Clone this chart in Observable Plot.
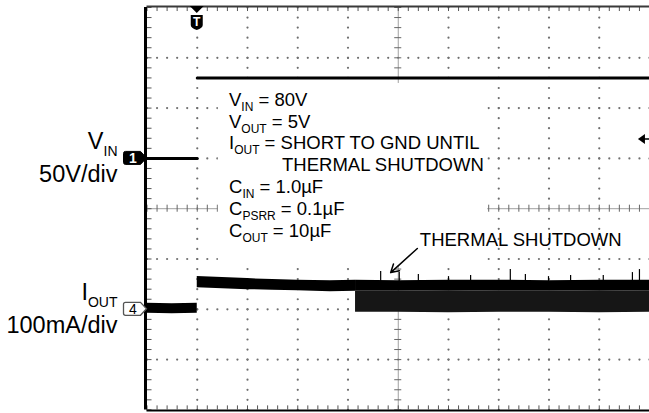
<!DOCTYPE html>
<html><head><meta charset="utf-8">
<script src="https://cdn.jsdelivr.net/npm/d3@7"></script>
<script src="https://cdn.jsdelivr.net/npm/@observablehq/plot@0.6"></script>
<style>body{margin:0;background:#fff} svg{display:block}</style>
</head><body><div id="chart"></div>
<script>
// Horizontal: time in divisions (10 div screen). Vertical: divisions (8 div screen).
const timeDomain = [0, 10];
const divDomain = [-4, 4];
const triggerTime = 1.0;

// V_IN trace (50V/div, ground reference at +1 div)
const vinSegment = [0, 0, 1, 1];
const vinTime = [0, 1.0, 1.0, 10];
const vinLevel = [1.0, 1.0, 2.6, 2.6];

// I_OUT trace (100mA/div, ground reference at -2 div): noisy band envelopes
const ioutPreTime = [0, 0.5, 1.0];
const ioutPreHigh = [-1.88, -1.89, -1.88];
const ioutPreLow = [-2.08, -2.09, -2.08];

const ioutOnTime = [1.0, 1.5, 2.0, 2.5, 3.0, 3.65, 4.15];
const ioutOnHigh = [-1.35, -1.37, -1.39, -1.41, -1.42, -1.43, -1.42];
const ioutOnLow = [-1.57, -1.59, -1.61, -1.62, -1.63, -1.65, -1.64];

// thermal shutdown cycling region
const tsdTime = [4.15, 5, 6, 7, 8, 9, 10];
const tsdHigh = [-1.42, -1.43, -1.42, -1.42, -1.43, -1.42, -1.42];
const tsdSolidLow = [-1.63, -1.63, -1.64, -1.63, -1.63, -1.64, -1.63];
const tsdLow = [-2.06, -2.06, -2.07, -2.06, -2.06, -2.07, -2.06];

const spikeTime = [4.65, 5.02, 5.40, 6.0, 6.44, 7.23, 7.53, 7.99, 8.43, 9.08, 9.66, 9.80];
const spikeTop = [-1.25, -1.27, -1.31, -1.35, -1.33, -1.21, -1.31, -1.35, -1.33, -1.33, -1.27, -1.21];

// Text
const conditionMain = ["V", "V", "I", "", "C", "C", "C"];
const conditionSub = ["IN", "OUT", "OUT", "", "IN", "PSRR", "OUT"];
const conditionRest = [" = 80V", " = 5V", " = SHORT TO GND UNTIL", "THERMAL SHUTDOWN", " = 1.0µF", " = 0.1µF", " = 10µF"];
const conditionX = [1.642, 1.642, 1.642, 2.697, 1.642, 1.642, 1.642];
const conditionY = [2.03, 1.60, 1.18, 0.74, 0.30, -0.135, -0.57];
const conditionBox = [{x1: 1.42, x2: 6.78, y1: -1.13, y2: 2.49}];

const channelMain = ["V", "I"];
const channelSub = ["IN", "OUT"];
const channelScale = ["50V/div", "100mA/div"];
const channelNumber = ["1", "4"];
const channelLevel = [1.0, -2.0];

const annotationText = ["THERMAL SHUTDOWN"];
const annotationTime = [5.44];
const annotationLevel = [-0.75];
const arrowFrom = [{t: 5.38, v: -0.79}];
const arrowTo = [{t: 4.85, v: -1.27}];

const triggerArrowLevel = 1.376;
const triggerArrowTime = 9.78;

// Grid
const majorX = d3.range(0, 11);
const majorY = d3.range(-4, 5);
const minorX = d3.range(0, 50.001).map(i => i / 5);
const minorY = d3.range(-20, 20.001).map(i => i / 5);

const FONT = "'Liberation Sans', Arial, Helvetica, sans-serif";

const gridDots = [];
for (const gx of majorX.filter(d => d > 0 && d < 10 && d !== 5)) for (const gy of minorY) gridDots.push({t: gx, v: gy});
for (const gy of majorY.filter(d => d > -4 && d < 4 && d !== 0)) for (const gx of minorX) gridDots.push({t: gx, v: gy});

const band = (ts, hi, lo) => ts.map((t, i) => ({t, hi: hi[i], lo: lo[i]}));
const vinData = vinTime.map((t, i) => ({t, v: vinLevel[i], s: vinSegment[i]}));
const spikes = spikeTime.map((t, i) => ({t, top: spikeTop[i]}));

function richText(parent, px, py, main, sub, rest, size, subSize, subDy, anchor) {
  const t = parent.append("text")
    .attr("x", px).attr("y", py)
    .attr("font-size", size)
    .attr("text-anchor", anchor)
    .attr("fill", "#000")
    .style("white-space", "pre");
  if (main) t.append("tspan").text(main);
  if (sub) t.append("tspan").attr("font-size", subSize).attr("dy", subDy).text(sub);
  if (rest) {
    const r = t.append("tspan").text(rest);
    if (sub) r.attr("dy", -subDy);
  }
  return t;
}

function overlay(index, scales) {
  const x = scales.x, y = scales.y;
  const g = d3.create("svg:g").attr("font-family", FONT).attr("text-anchor", "start");

  // conditions block
  conditionMain.forEach((m, i) => {
    richText(g, x(conditionX[i]), y(conditionY[i]), m, conditionSub[i], conditionRest[i], 18.5, 12, 5, "start");
  });
  // annotation
  annotationText.forEach((s, i) => {
    g.append("text").attr("x", x(annotationTime[i])).attr("y", y(annotationLevel[i]))
      .attr("text-anchor", "start")
      .attr("font-size", 18.5).attr("fill", "#000").text(s);
  });

  // channel labels + markers
  const x0 = x(0);
  channelMain.forEach((m, i) => {
    const cy = y(channelLevel[i]);
    richText(g, x0 - 29, cy - 9, m, channelSub[i], "", 23.5, 14, 7, "end");
    g.append("text").attr("x", x0 - 29).attr("y", cy + 24).attr("font-size", 23.5)
      .attr("text-anchor", "end").attr("fill", "#000").text(channelScale[i]);
    const filled = i === 0;
    const l = x0 - 23, r = x0 - 6, tip = x0;
    g.append("path")
      .attr("d", `M${l + 2},${cy - 6.5}H${r}L${tip},${cy}L${r},${cy + 6.5}H${l + 2}Q${l},${cy + 6.5} ${l},${cy + 4.5}V${cy - 4.5}Q${l},${cy - 6.5} ${l + 2},${cy - 6.5}Z`)
      .attr("fill", filled ? "#000" : "#fff")
      .attr("stroke", filled ? "#000" : "#555")
      .attr("stroke-width", filled ? 1 : 1.3);
    g.append("text").attr("x", (l + r) / 2 + 1).attr("y", cy + 5)
      .attr("font-size", 14).attr("font-weight", filled ? "bold" : "normal")
      .attr("text-anchor", "middle").attr("fill", filled ? "#fff" : "#000").text(channelNumber[i]);
  });

  // trigger marker at top
  const tx = x(triggerTime), ty = y(4);
  g.append("path").attr("d", `M${tx - 7},${ty - 1}H${tx + 7}L${tx},${ty + 6}Z`).attr("fill", "#000");
  g.append("path")
    .attr("d", `M${tx - 6},${ty + 8}H${tx + 6}V${ty + 18}Q${tx + 6},${ty + 21} ${tx},${ty + 23}Q${tx - 6},${ty + 21} ${tx - 6},${ty + 18}Z`)
    .attr("fill", "#000");
  g.append("text").attr("x", tx).attr("y", ty + 19).attr("font-size", 12).attr("font-weight", "bold")
    .attr("text-anchor", "middle").attr("fill", "#fff").text("T");

  // trigger level arrow at right edge
  const ax = x(triggerArrowTime), ay = y(triggerArrowLevel);
  g.append("path").attr("d", `M${ax},${ay}L${ax + 7},${ay - 5}V${ay + 5}Z`).attr("fill", "#000");
  g.append("line").attr("x1", ax + 5).attr("x2", ax + 15).attr("y1", ay).attr("y2", ay)
    .attr("stroke", "#000").attr("stroke-width", 1.5);
  return g.node();
}

const chart = Plot.plot({
  width: 649,
  height: 413,
  marginLeft: 0, marginRight: 0, marginTop: 0, marginBottom: 0,
  x: {domain: timeDomain, range: [146.5, 649], axis: null},
  y: {domain: divDomain, range: [409.4, 7], axis: null},
  style: {background: "#fff", fontFamily: FONT, overflow: "visible"},
  marks: [
    // grid dots
    Plot.dot(gridDots, {x: "t", y: "v", r: 1.1, fill: "#6e6e6e", strokeWidth: 0}),
    // center cross lines with ticks
    Plot.ruleY([0], {x1: 0, x2: 10, stroke: "#a0a0a0", strokeWidth: 1}),
    Plot.ruleX([5], {y1: -4, y2: 4, stroke: "#a0a0a0", strokeWidth: 1}),
    Plot.ruleX(minorX, {x: d => d, y1: -0.07, y2: 0.07, stroke: "#666", strokeWidth: 1}),
    Plot.ruleY(minorY, {y: d => d, x1: 4.93, x2: 5.07, stroke: "#666", strokeWidth: 1}),
    // border ticks
    Plot.ruleY(minorY, {y: d => d, x1: 0, x2: 0.1, stroke: "#555", strokeWidth: 1}),
    Plot.ruleX(minorX, {x: d => d, y1: 4, y2: 3.92, stroke: "#555", strokeWidth: 1}),
    Plot.ruleX(minorX, {x: d => d, y1: -4, y2: -3.92, stroke: "#555", strokeWidth: 1}),
    // white background of the conditions text block
    Plot.rect(conditionBox, {x1: "x1", x2: "x2", y1: "y1", y2: "y2", fill: "#fff"}),
    // frame
    Plot.ruleY([4], {x1: 0, x2: 10, stroke: "#3a3a3a", strokeWidth: 2, dy: -1}),
    Plot.ruleY([-4], {x1: 0, x2: 10, stroke: "#000", strokeWidth: 2, dy: 0.5}),
    Plot.ruleX([0], {y1: -4, y2: 4, stroke: "#000", strokeWidth: 3, dx: -1.5}),
    // V_IN
    Plot.line(vinData, {x: "t", y: "v", z: "s", stroke: "#000", strokeWidth: 3}),
    // I_OUT
    Plot.areaY(band(ioutPreTime, ioutPreHigh, ioutPreLow), {x: "t", y1: "lo", y2: "hi", fill: "#000"}),
    Plot.areaY(band(ioutOnTime, ioutOnHigh, ioutOnLow), {x: "t", y1: "lo", y2: "hi", fill: "#000"}),
    Plot.areaY(band(tsdTime, tsdSolidLow, tsdLow), {x: "t", y1: "lo", y2: "hi", fill: "#161616"}),
    Plot.areaY(band(tsdTime, tsdHigh, tsdSolidLow), {x: "t", y1: "lo", y2: "hi", fill: "#000"}),
    Plot.ruleX(spikes, {x: "t", y1: -1.45, y2: "top", stroke: "#000", strokeWidth: 1.2}),
    // annotation arrow
    Plot.arrow([0], {x1: () => arrowFrom[0].t, y1: () => arrowFrom[0].v, x2: () => arrowTo[0].t, y2: () => arrowTo[0].v,
      stroke: "#000", strokeWidth: 1.5, headLength: 9}),
    overlay
  ]
});
document.getElementById("chart").append(chart);
</script>
</body></html>
